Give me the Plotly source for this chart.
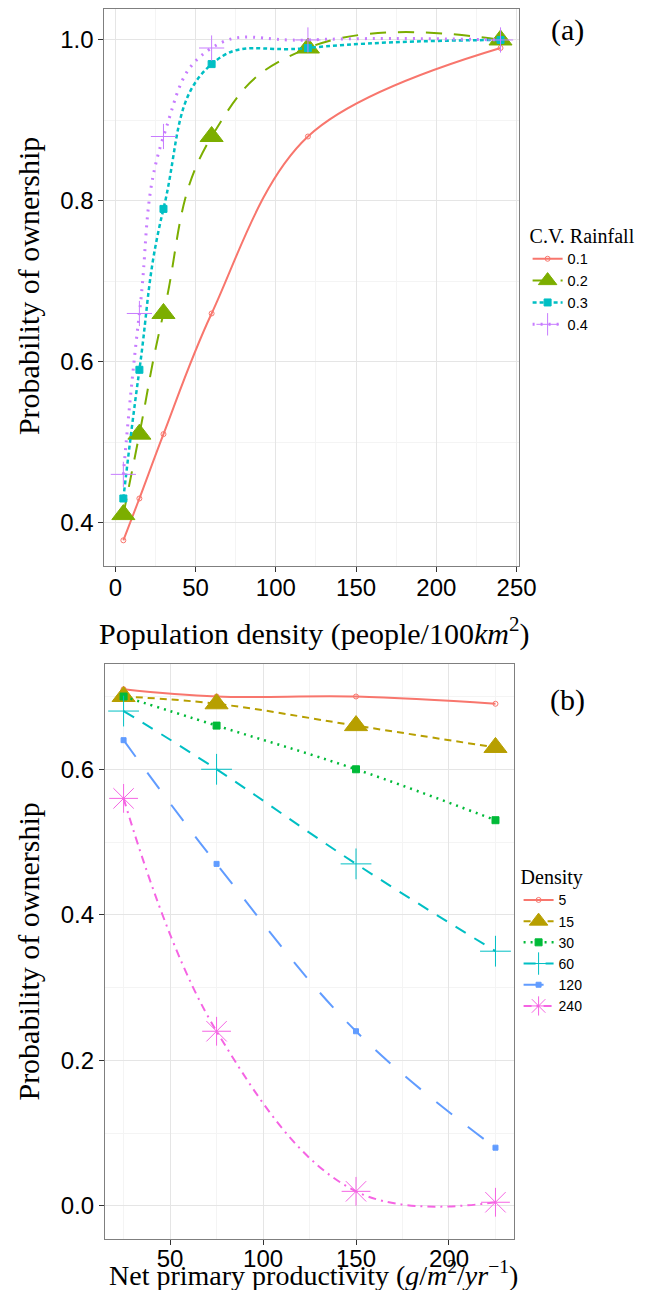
import plotly.graph_objects as go

# ---------------- data ----------------
dens_x = [5, 15, 30, 60, 120, 240]
cv_levels = ["0.1", "0.2", "0.3", "0.4"]
cv_01 = [0.378, 0.43, 0.51, 0.66, 0.88, 0.99]
cv_02 = [0.41, 0.51, 0.66, 0.88, 0.99, 1.0]
cv_03 = [0.43, 0.59, 0.79, 0.97, 0.99, 1.0]
cv_04 = [0.46, 0.66, 0.88, 0.99, 1.0, 1.0]

npp_x = [25, 75, 150, 225]
dens_levels = ["5", "15", "30", "60", "120", "240"]
d_5 = [0.71, 0.70, 0.70, 0.69]
d_15 = [0.70, 0.69, 0.66, 0.63]
d_30 = [0.70, 0.66, 0.60, 0.53]
d_60 = [0.68, 0.60, 0.47, 0.35]
d_120 = [0.64, 0.47, 0.24, 0.08]
d_240 = [0.56, 0.24, 0.02, 0.005]

xticks_a = [0, 50, 100, 150, 200, 250]
yticks_a = [0.4, 0.6, 0.8, 1.0]
xticks_b = [50, 100, 150, 200]
yticks_b = [0.0, 0.2, 0.4, 0.6]

# ---------------- styling ----------------
PAGE_W, PAGE_H = 652, 1298
BODY_MARGIN = 8          # browser default body margin
KX = 0.970               # observed horizontal page-to-picture factor
W = int(round(PAGE_W / KX)) - 2 * BODY_MARGIN
H = PAGE_H - 2 * BODY_MARGIN
SERIF = "Liberation Serif, Times New Roman, serif"
SANS = "Liberation Sans, Arial, sans-serif"

styles_a = [
    dict(color="#F8766D", dash="solid", symbol="circle-open", size=5, width=2, sm=1.0),
    dict(color="#7CAE00", dash="16px,12px", symbol="triangle-up", size=20, width=2, sm=1.3),
    dict(color="#00BFC4", dash="4px,3px", symbol="square", size=7, width=2.5, sm=1.3),
    dict(color="#C77CFF", dash="2px,6px", symbol="cross-thin-open", size=18, width=3, sm=1.3),
]
series_a = [cv_01, cv_02, cv_03, cv_04]

styles_b = [
    dict(color="#F8766D", dash="solid", symbol="circle-open", size=5, width=2, sm=1.1),
    dict(color="#B79F00", dash="7px,5px", symbol="triangle-up", size=20, width=2, sm=1.1),
    dict(color="#00BA38", dash="2px,5px", symbol="square", size=7, width=2.5, sm=1.1),
    dict(color="#00BFC4", dash="12px,10px", symbol="cross-thin-open", size=22, width=2, sm=1.1),
    dict(color="#619CFF", dash="20px,20px", symbol="square", size=5, width=2, sm=1.1),
    dict(color="#F564E3", dash="8px,5px,2px,5px", symbol="asterisk-open", size=24, width=2, sm=1.1),
]
series_b = [d_5, d_15, d_30, d_60, d_120, d_240]

fig = go.Figure()

for name, ys, st in zip(cv_levels, series_a, styles_a):
    fig.add_trace(go.Scatter(
        x=dens_x, y=ys, name=name, mode="lines+markers",
        line=dict(color=st["color"], dash=st["dash"], width=st["width"], shape="spline", smoothing=st["sm"]),
        marker=dict(symbol=st["symbol"], size=st["size"], color=st["color"], line=dict(color=st["color"], width=1)),
        xaxis="x", yaxis="y", legend="legend",
    ))

for name, ys, st in zip(dens_levels, series_b, styles_b):
    fig.add_trace(go.Scatter(
        x=npp_x, y=ys, name=name, mode="lines+markers",
        line=dict(color=st["color"], dash=st["dash"], width=st["width"], shape="spline", smoothing=st["sm"]),
        marker=dict(symbol=st["symbol"], size=st["size"], color=st["color"], line=dict(color=st["color"], width=1)),
        xaxis="x2", yaxis="y2", legend="legend2",
    ))

def px_x(p):
    return (p / KX - BODY_MARGIN) / W

def px_y(p):
    return 1 - (p - BODY_MARGIN) / H

axis_common = dict(
    showline=True, linecolor="#7F7F7F", linewidth=1.2, mirror=True,
    ticks="outside", ticklen=5, tickcolor="#333333", tickwidth=1,
    showgrid=True, gridcolor="#E5E5E5", gridwidth=1.2,
    zeroline=False,
    tickfont=dict(family=SANS, size=24, color="black"),
)

fig.update_layout(
    width=W, height=H,
    margin=dict(l=0, r=0, t=0, b=0),
    paper_bgcolor="white", plot_bgcolor="white",
    showlegend=True,
    xaxis=dict(domain=[px_x(104), px_x(517)], anchor="y", range=[-6.75, 251.25],
               tickvals=xticks_a, ticklabelstandoff=-5,
               minor=dict(showgrid=True, gridcolor="#F4F4F4", dtick=25, tick0=25),
               **axis_common),
    yaxis=dict(domain=[px_y(565.5), px_y(8)], anchor="x", range=[0.346, 1.0385],
               tickvals=yticks_a, tickformat=".1f",
               minor=dict(showgrid=True, gridcolor="#F4F4F4", dtick=0.1, tick0=0.3),
               **axis_common),
    xaxis2=dict(domain=[px_x(104.5), px_x(512.5)], anchor="y2", range=[15, 235],
                tickvals=xticks_b, ticklabelstandoff=-7,
                minor=dict(showgrid=True, gridcolor="#F4F4F4", dtick=25, tick0=25),
                **axis_common),
    yaxis2=dict(domain=[px_y(1238.6), px_y(664)], anchor="x2", range=[-0.045, 0.744],
                tickvals=yticks_b, tickformat=".1f",
                minor=dict(showgrid=True, gridcolor="#F4F4F4", dtick=0.1, tick0=0.1),
                **axis_common),
    legend=dict(
        x=px_x(526), y=px_y(216), xanchor="left", yanchor="top",
        title=dict(text="C.V. Rainfall", font=dict(family=SERIF, size=20, color="black")),
        font=dict(family=SANS, size=14.5, color="black"),
        bgcolor="rgba(0,0,0,0)", itemwidth=30, tracegroupgap=0,
    ),
    legend2=dict(
        x=px_x(517), y=px_y(858), xanchor="left", yanchor="top",
        title=dict(text="Density", font=dict(family=SERIF, size=20, color="black")),
        font=dict(family=SANS, size=14, color="black"),
        bgcolor="rgba(0,0,0,0)", itemwidth=30, tracegroupgap=0,
    ),
)

TFS = 30
annotations = [
    dict(text="Probability of ownership", x=px_x(28), y=px_y(285), textangle=-90,
         font=dict(family=SERIF, size=TFS, color="black")),
    dict(text="Probability of ownership", x=px_x(28), y=px_y(951), textangle=-90,
         font=dict(family=SERIF, size=TFS, color="black")),
    dict(text="Population density (people/100<i>km</i><sup>2</sup>)", x=px_x(313), y=px_y(631),
         font=dict(family=SERIF, size=TFS, color="black")),
    dict(text="Net primary productivity (<i>g</i>/<i>m</i><sup>2</sup>/<i>yr</i><sup>−1</sup>)",
         x=px_x(312), y=px_y(1273), font=dict(family=SERIF, size=28, color="black")),
    dict(text="(a)", x=px_x(566), y=px_y(29), font=dict(family=SERIF, size=TFS, color="black")),
    dict(text="(b)", x=px_x(566), y=px_y(700), font=dict(family=SERIF, size=TFS, color="black")),
]
for a in annotations:
    a.update(xref="paper", yref="paper", showarrow=False, xanchor="center", yanchor="middle")
fig.update_layout(annotations=annotations)

fig.write_html("out.html", config=dict(displayModeBar=False))
